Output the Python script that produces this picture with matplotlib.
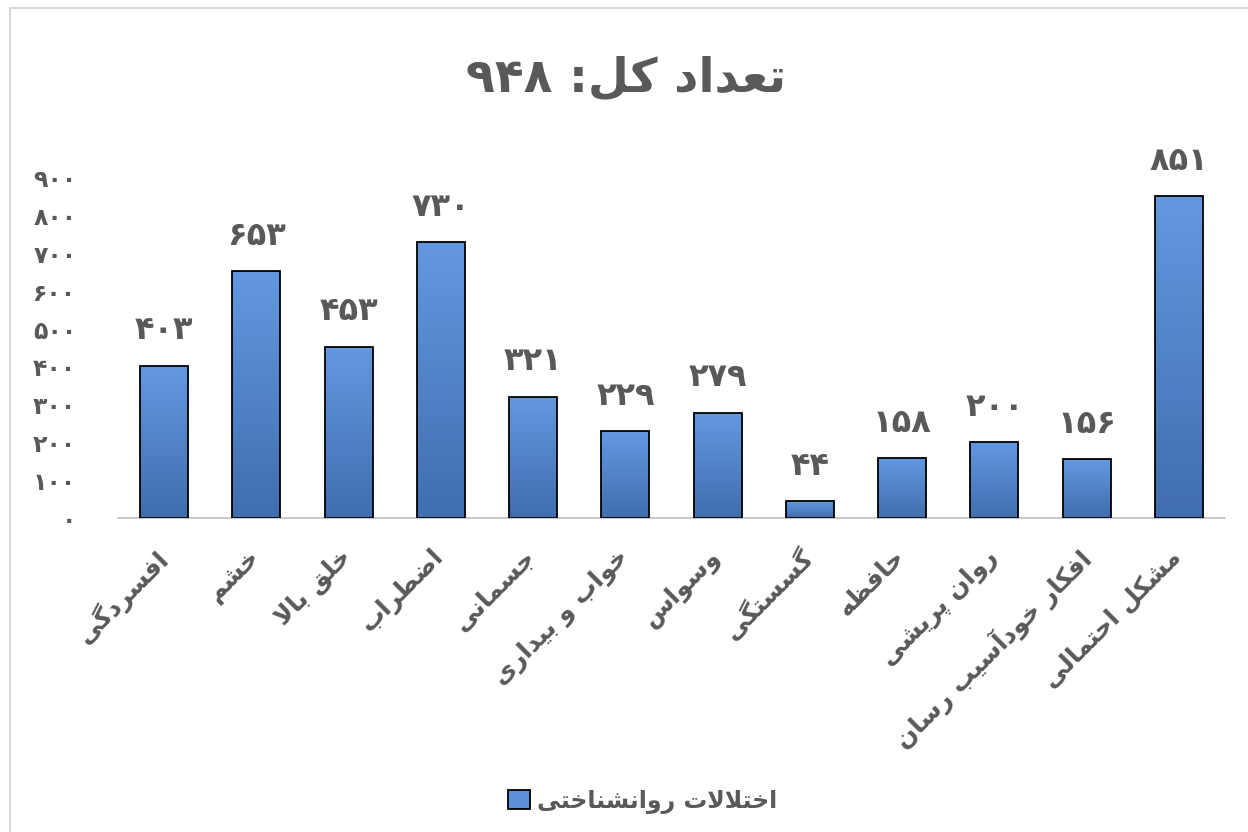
import re
import numpy as np
import matplotlib
matplotlib.use('Agg')
from matplotlib import pyplot as plt
from matplotlib.patches import Rectangle

categories = ['افسردگی', 'خشم', 'خلق بالا', 'اضطراب', 'جسمانی', 'خواب و بیداری',
              'وسواس', 'گسستگی', 'حافظه', 'روان پریشی', 'افکار خودآسیب رسان', 'مشکل احتمالی']
values = [403, 653, 453, 730, 321, 229, 279, 44, 158, 200, 156, 851]
y_ticks = [0, 100, 200, 300, 400, 500, 600, 700, 800, 900]
title_text = 'تعداد کل: ۹۴۸'
legend_text = 'اختلالات روانشناختی'

# contextual forms: isolated, final, initial, medial
FORMS = {
    'ا': (0xFE8D, 0xFE8E, None, None), 'آ': (0xFE81, 0xFE82, None, None),
    'ب': (0xFE8F, 0xFE90, 0xFE91, 0xFE92), 'پ': (0xFB56, 0xFB57, 0xFB58, 0xFB59),
    'ت': (0xFE95, 0xFE96, 0xFE97, 0xFE98), 'ث': (0xFE99, 0xFE9A, 0xFE9B, 0xFE9C),
    'ج': (0xFE9D, 0xFE9E, 0xFE9F, 0xFEA0), 'چ': (0xFB7A, 0xFB7B, 0xFB7C, 0xFB7D),
    'ح': (0xFEA1, 0xFEA2, 0xFEA3, 0xFEA4), 'خ': (0xFEA5, 0xFEA6, 0xFEA7, 0xFEA8),
    'د': (0xFEA9, 0xFEAA, None, None), 'ذ': (0xFEAB, 0xFEAC, None, None),
    'ر': (0xFEAD, 0xFEAE, None, None), 'ز': (0xFEAF, 0xFEB0, None, None),
    'ژ': (0xFB8A, 0xFB8B, None, None),
    'س': (0xFEB1, 0xFEB2, 0xFEB3, 0xFEB4), 'ش': (0xFEB5, 0xFEB6, 0xFEB7, 0xFEB8),
    'ص': (0xFEB9, 0xFEBA, 0xFEBB, 0xFEBC), 'ض': (0xFEBD, 0xFEBE, 0xFEBF, 0xFEC0),
    'ط': (0xFEC1, 0xFEC2, 0xFEC3, 0xFEC4), 'ظ': (0xFEC5, 0xFEC6, 0xFEC7, 0xFEC8),
    'ع': (0xFEC9, 0xFECA, 0xFECB, 0xFECC), 'غ': (0xFECD, 0xFECE, 0xFECF, 0xFED0),
    'ف': (0xFED1, 0xFED2, 0xFED3, 0xFED4), 'ق': (0xFED5, 0xFED6, 0xFED7, 0xFED8),
    'ک': (0xFB8E, 0xFB8F, 0xFB90, 0xFB91), 'گ': (0xFB92, 0xFB93, 0xFB94, 0xFB95),
    'ل': (0xFEDD, 0xFEDE, 0xFEDF, 0xFEE0), 'م': (0xFEE1, 0xFEE2, 0xFEE3, 0xFEE4),
    'ن': (0xFEE5, 0xFEE6, 0xFEE7, 0xFEE8), 'ه': (0xFEE9, 0xFEEA, 0xFEEB, 0xFEEC),
    'و': (0xFEED, 0xFEEE, None, None), 'ی': (0xFBFC, 0xFBFD, 0xFBFE, 0xFBFF),
}
LAM_ALEF = {'ا': (0xFEFB, 0xFEFC), 'آ': (0xFEF5, 0xFEF6)}


def fa(text):
    # shape Persian letters and flip to visual order (no shaping engine in matplotlib)
    chars = list(text)
    out = []
    i = 0
    while i < len(chars):
        c = chars[i]
        prev = chars[i - 1] if i > 0 else None
        joins_prev = prev in FORMS and FORMS[prev][2] is not None
        if c not in FORMS:
            out.append(c)
            i += 1
            continue
        nxt = chars[i + 1] if i + 1 < len(chars) else None
        if c == 'ل' and nxt in LAM_ALEF:
            out.append(chr(LAM_ALEF[nxt][1 if joins_prev else 0]))
            i += 2
            continue
        joins_next = nxt in FORMS and FORMS[c][2] is not None
        iso, fin, ini, med = FORMS[c]
        if joins_prev and joins_next:
            code = med
        elif joins_prev:
            code = fin
        elif joins_next:
            code = ini
        else:
            code = iso
        out.append(chr(code))
        i += 1
    vis = ''.join(out)[::-1]
    return re.sub(r'[۰-۹0-9]+', lambda m: m.group()[::-1], vis)


def fa_num(n):
    return fa(str(n).translate(str.maketrans('0123456789', '۰۱۲۳۴۵۶۷۸۹')))


plt.rcParams['font.family'] = ['DejaVu Sans']
grey = '#595959'

fig = plt.figure(figsize=(12.48, 8.32), dpi=100)
ax = fig.add_axes([0.0946, 0.3774, 0.887, 0.4087])

x = np.arange(len(values))
width = 0.52
bars = ax.bar(x, values, width=width, color='#5B8FD6', edgecolor='black',
              linewidth=1.3, zorder=3)

grad = np.linspace(0, 1, 100).reshape(-1, 1)
cmap = matplotlib.colors.LinearSegmentedColormap.from_list('g', ['#6398E0', '#406EAE'])
for b in bars:
    im = ax.imshow(grad, cmap=cmap, aspect='auto', zorder=2,
                   extent=[b.get_x(), b.get_x() + b.get_width(), 0, b.get_height()])
    im.set_clip_path(b)
    b.set_facecolor('none')

for xi, v in zip(x, values):
    ax.annotate(fa_num(v), (xi, v), xytext=(0, 14), textcoords='offset points',
                ha='center', va='bottom', fontsize=23, fontweight='bold', color=grey)

# category labels drawn by hand so they sit where the reference puts them
for xi, c in zip(x, categories):
    ax.annotate(fa(c), (xi, 0), xytext=(-7, -19), textcoords='offset points',
                rotation=45, ha='right', va='top', rotation_mode='anchor',
                fontsize=18, fontweight='bold', color=grey, annotation_clip=False)

ax.set_xlim(-0.5, len(values) - 0.5)
ax.set_ylim(0, 900)
ax.set_yticks(y_ticks)
ax.set_yticklabels([fa_num(t) for t in y_ticks], fontsize=17, fontweight='bold', color=grey)
ax.set_xticks(x)
ax.set_xticklabels([])
ax.tick_params(axis='both', length=0)
ax.tick_params(axis='y', pad=30)
for s in ['top', 'right', 'left']:
    ax.spines[s].set_visible(False)
ax.spines['bottom'].set_color('#BFBFBF')
ax.spines['bottom'].set_linewidth(1.2)

fig.text(0.502, 0.905, fa(title_text), ha='center', va='center', fontsize=34,
         fontweight='bold', color=grey)

handle = Rectangle((0, 0), 1, 1, facecolor='#5B8FD6', edgecolor='black', linewidth=1.3)
fig.legend([handle], [fa(legend_text)], loc='center', bbox_to_anchor=(0.515, 0.037),
           frameon=False, prop={'size': 17, 'weight': 'bold'}, labelcolor=grey,
           handlelength=0.9, handleheight=0.9, handletextpad=0.3)

fig.add_artist(Rectangle((0.008, -0.01), 1.0, 1.0, transform=fig.transFigure,
                         fill=False, edgecolor='#D9D9D9', linewidth=1.5))

fig.savefig('out.png', dpi=100)
